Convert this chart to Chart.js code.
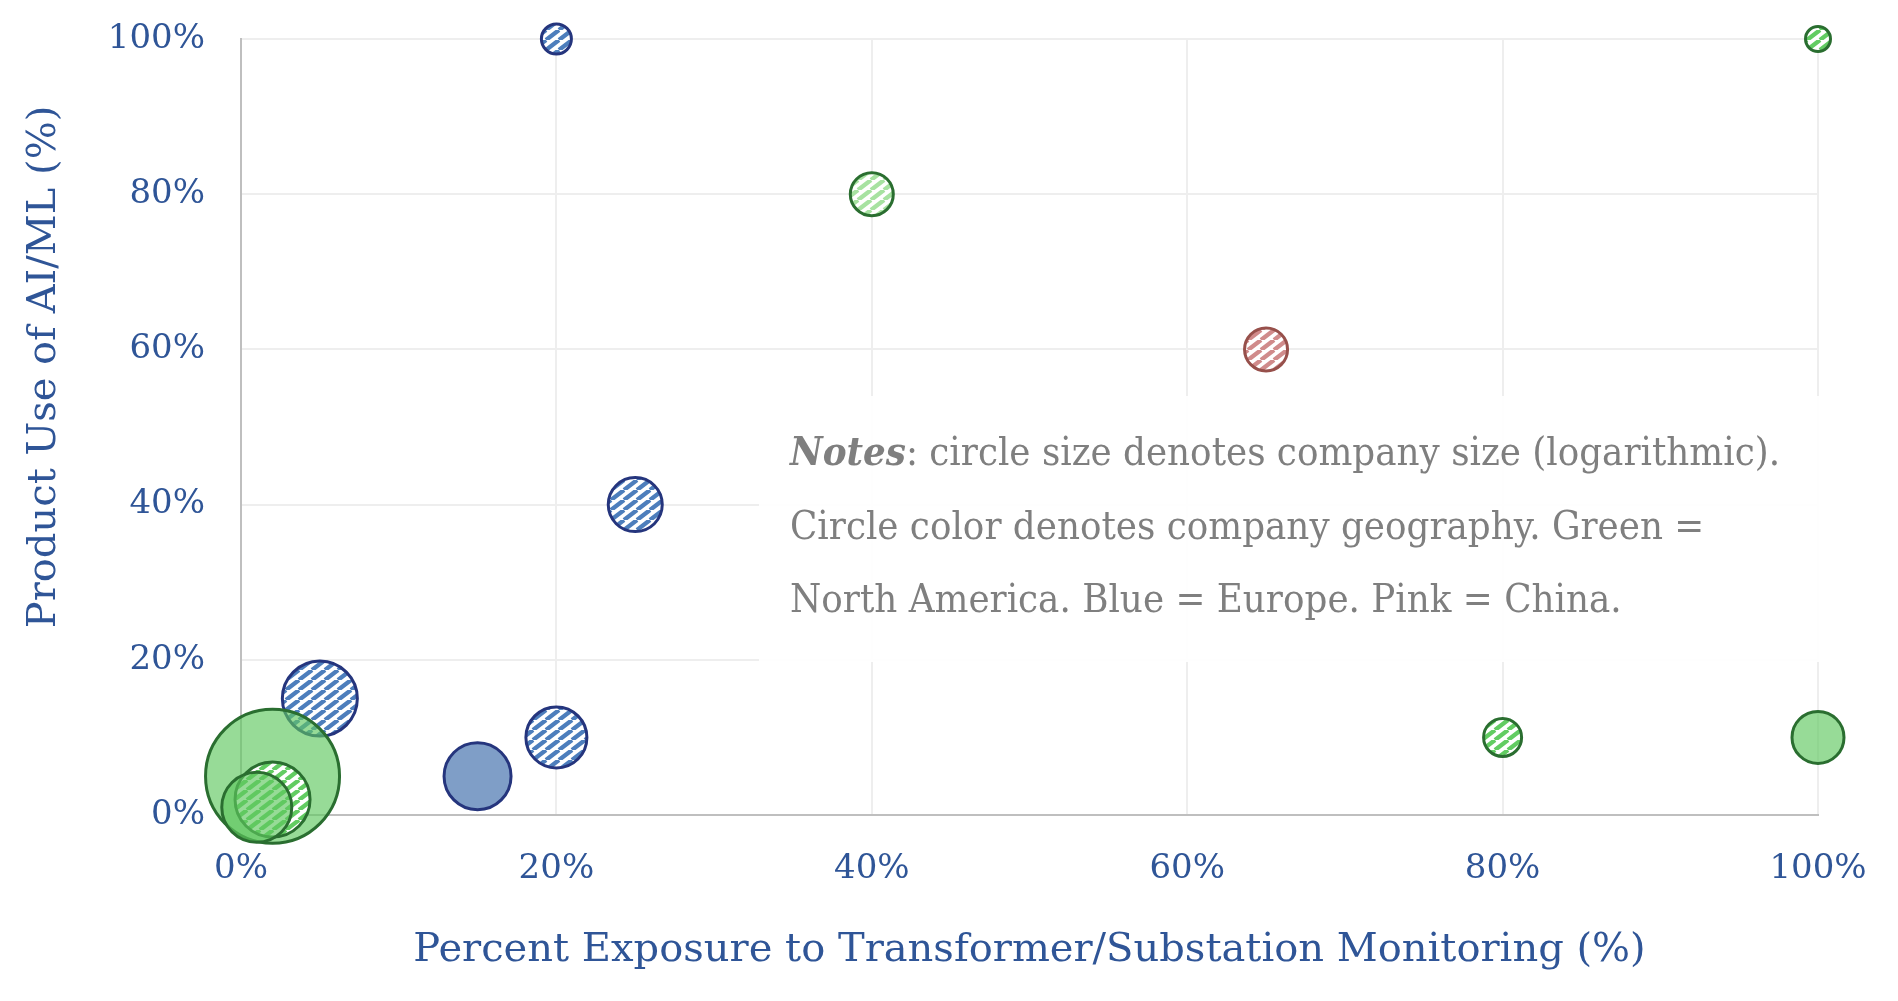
<!DOCTYPE html>
<html>
<head>
<meta charset="utf-8">
<script src="https://cdn.jsdelivr.net/npm/chart.js@4.4.1/dist/chart.umd.min.js"></script>
<style>
  html, body { margin: 0; padding: 0; background: #fff; }
  canvas { display: block; }
</style>
</head>
<body>
<canvas id="ai-exposure-chart" width="1898" height="1001"></canvas>
<script>
// x: % exposure to transformer/substation monitoring, y: % product use of AI/ML
let exposure = [5, 2, 2, 1, 20, 40, 65, 25, 20, 15, 80, 100, 100];
let aiUse = [15, 5, 2, 1, 100, 80, 60, 40, 10, 5, 10, 10, 100];
// bubble radius (company size, logarithmic)
let bubbleR = [37.5, 67, 37.5, 35, 15, 21.5, 21.5, 27, 30.5, 33.5, 19, 26, 12.5];
let region = [
  "Europe", "North America", "North America", "North America", "Europe",
  "North America", "China", "Europe", "Europe", "Europe",
  "North America", "North America", "North America",
];
let fillType = [
  "hatch", "solid", "hatch", "solid", "hatch",
  "hatchLight", "hatch", "hatch", "hatch", "solid",
  "hatch", "solid", "hatch",
];
let tickValues = [0, 20, 40, 60, 80, 100];

let notesLines = [
  ["Notes", ": circle size denotes company size (logarithmic)."],
  ["", "Circle color denotes company geography. Green ="],
  ["", "North America. Blue = Europe. Pink = China."],
];

let blueText = "#2f5597";
let serif = "'DejaVu Serif', 'Liberation Serif', serif";

function makeHatch(color) {
  let w = 13;
  let h = 10;
  let c = document.createElement("canvas");
  c.width = w;
  c.height = h;
  let g = c.getContext("2d");
  g.fillStyle = "#ffffff";
  g.fillRect(0, 0, w, h);
  g.strokeStyle = color;
  g.lineWidth = 4.3;
  g.beginPath();
  for (let k = -1; k <= 1; k++) {
    g.moveTo(k * w, h);
    g.lineTo(k * w + w, 0);
  }
  g.stroke();
  return g.createPattern(c, "repeat");
}

let styles = {
  Europe: {
    hatch: makeHatch("#4d7ebc"),
    solid: "#7f9ec7",
    border: "#25357d",
  },
  "North America": {
    hatch: makeHatch("#62cc62"),
    hatchLight: makeHatch("#a7e2a1"),
    solid: "rgba(95, 200, 95, 0.65)",
    border: "#2a6e30",
  },
  China: {
    hatch: makeHatch("#d08b8b"),
    border: "#97504b",
  },
};

let points = exposure.map((x, i) => ({ x: x, y: aiUse[i], r: bubbleR[i] }));
let fills = region.map((g, i) => styles[g][fillType[i]]);
let borders = region.map((g) => styles[g].border);

let notesBox = {
  id: "notesBox",
  beforeDatasetsDraw(chart) {
    let ctx = chart.ctx;
    ctx.save();
    ctx.fillStyle = "rgba(255, 255, 255, 0.93)";
    ctx.fillRect(759, 396, 1072, 266);

    ctx.fillStyle = "#7f7f7f";
    ctx.textBaseline = "middle";
    let regFont = "39px " + serif;
    let boldFont = "italic bold 39px " + serif;
    // squeeze the notes horizontally so line one spans the box like the original
    ctx.font = boldFont;
    let w0 = ctx.measureText(notesLines[0][0]).width;
    ctx.font = regFont;
    let w1 = ctx.measureText(notesLines[0][1]).width;
    let sx = 990 / (w0 + w1);
    let lineY = [455, 529, 602];
    notesLines.forEach((ln, i) => {
      ctx.save();
      ctx.translate(790, lineY[i]);
      ctx.scale(sx, 1);
      let x = 0;
      if (ln[0]) {
        ctx.font = boldFont;
        ctx.fillText(ln[0], 0, 0);
        x = ctx.measureText(ln[0]).width;
      }
      ctx.font = regFont;
      ctx.fillText(ln[1], x, 0);
      ctx.restore();
    });
    ctx.restore();
  },
  afterDraw(chart) {
    // y axis title sits above the axis middle in the original
    let ctx = chart.ctx;
    ctx.save();
    ctx.translate(45, 367);
    ctx.rotate(-Math.PI / 2);
    ctx.fillStyle = blueText;
    ctx.font = "40px " + serif;
    ctx.textAlign = "center";
    ctx.textBaseline = "middle";
    ctx.fillText("Product Use of AI/ML (%)", 0, 0);
    ctx.restore();
  },
};

let aiExposureChart = new Chart("ai-exposure-chart", {
  type: "bubble",
  data: {
    datasets: [
      {
        label: "Companies",
        data: points,
        backgroundColor: fills,
        borderColor: borders,
        borderWidth: 3,
        hoverBorderWidth: 3,
        clip: false,
      },
    ],
  },
  options: {
    responsive: false,
    animation: false,
    devicePixelRatio: 1,
    events: [],
    layout: {
      autoPadding: false,
      padding: { top: 39, right: 80, left: 0, bottom: 0 },
    },
    plugins: {
      legend: { display: false },
      tooltip: { enabled: false },
    },
    scales: {
      x: {
        type: "linear",
        min: 0,
        max: 100,
        afterBuildTicks: (s) => {
          s.ticks = tickValues.map((v) => ({ value: v }));
        },
        afterFit: (s) => {
          s.height = 186;
          s.paddingLeft = 0;
          s.paddingRight = 0;
        },
        ticks: {
          color: blueText,
          font: { family: serif, size: 34 },
          padding: 34,
          callback: (v) => v + "%",
        },
        grid: {
          color: "#eeeeee",
          lineWidth: 2,
          drawTicks: false,
        },
        border: { color: "#bfbfbf", width: 2 },
        title: {
          display: true,
          text: "Percent Exposure to Transformer/Substation Monitoring (%)",
          color: blueText,
          font: { family: serif, size: 40 },
          padding: { top: 0, bottom: 26 },
        },
      },
      y: {
        type: "linear",
        min: 0,
        max: 100,
        afterBuildTicks: (s) => {
          s.ticks = tickValues.map((v) => ({ value: v }));
        },
        afterFit: (s) => {
          s.width = 241;
          s.paddingTop = 0;
          s.paddingBottom = 0;
        },
        ticks: {
          color: blueText,
          font: { family: serif, size: 34 },
          padding: 36,
          callback: (v) => v + "%",
        },
        grid: {
          color: "#eeeeee",
          lineWidth: 2,
          drawTicks: false,
        },
        border: { color: "#bfbfbf", width: 2 },
      },
    },
  },
  plugins: [notesBox],
});
</script>
</body>
</html>
